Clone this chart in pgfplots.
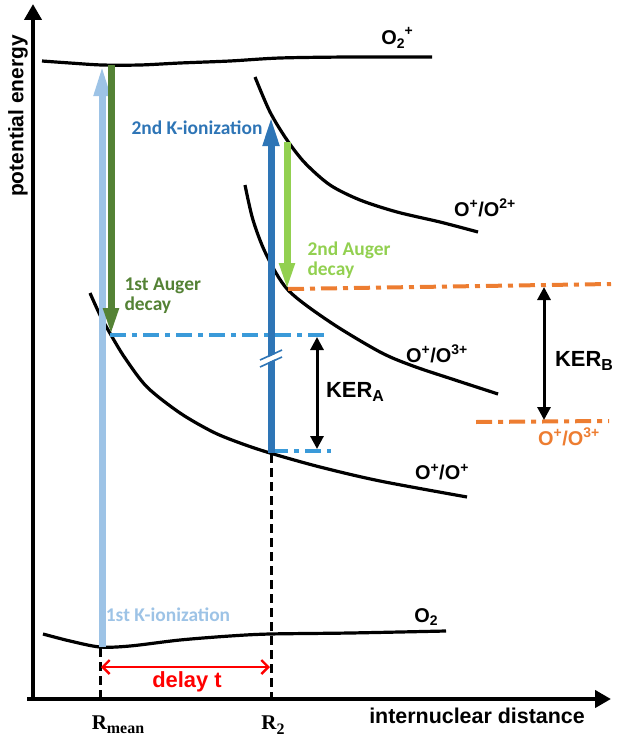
\documentclass[border=0pt]{standalone}
\usepackage{fontspec}
\setmainfont{Liberation Sans}
\newfontfamily\calfont{Carlito}
\newfontfamily\serfont{Liberation Serif}
\usepackage{pgfplots}
\pgfplotsset{compat=1.18}
\usetikzlibrary{arrows.meta}
\definecolor{lblue}{HTML}{9DC3E6}
\definecolor{dgreen}{HTML}{548235}
\definecolor{lgreen}{HTML}{92D050}
\definecolor{kblue}{HTML}{2E75B6}
\definecolor{dblue}{HTML}{3A9AD9}
\definecolor{orng}{HTML}{ED7D31}
\newcommand\fs[1]{\fontsize{#1}{#1}\selectfont}
\begin{document}
\begin{tikzpicture}
\begin{axis}[scale only axis, width=614bp, height=740bp,
  xmin=0, xmax=614, ymin=0, ymax=740, y dir=reverse,
  hide axis, clip=false]
\addplot[draw=none] coordinates {(0,0)(614,740)};
% axes
\addplot[black, line width=4bp, -{Triangle[length=16bp,width=17bp]}] coordinates {(33,700)(33,4)};
\addplot[black, line width=4bp, -{Triangle[length=16bp,width=17bp]}] coordinates {(27,699)(611,699)};
% dashed verticals
\addplot[black, line width=3bp, dash pattern=on 9bp off 5bp] coordinates {(100,648)(100,699)};
\addplot[black, line width=3bp, dash pattern=on 9bp off 5bp] coordinates {(271,454)(271,699)};
% curves
\addplot[black, line width=3.2bp, smooth] coordinates {(42,61)(70,63)(102,65)(140,65)(180,63)(230,61)(280,58)(350,57)(432,57)};
\addplot[black, line width=3.2bp, smooth] coordinates {(43,634)(70,641)(100,647)(130,646)(180,640)(230,636)(270,634)(350,633)(446,631)};
\addplot[black, line width=3.2bp, smooth] coordinates {(255,77)(270,112)(287,140)(305,163)(330,185)(360,200)(397,212)(440,222)(478,232)};
\addplot[black, line width=3.2bp, smooth] coordinates {(245,185)(253,220)(266,254)(288,290)(330,322)(380,352)(413,366)(455,380)(498,394)};
\addplot[black, line width=3.2bp, smooth] coordinates {(90,293)(100,315)(111,335)(125,358)(147,387)(180,413)(213,432)(240,443)(270,453)(320,467)(380,481)(467,497)};
% dash-dot levels
\addplot[dblue, line width=4bp, dash pattern=on 16bp off 6bp on 5bp off 6bp] coordinates {(110,335)(328,335)};
\addplot[dblue, line width=4bp, dash pattern=on 16bp off 6bp on 5bp off 6bp] coordinates {(272,451)(331,451)};
\addplot[orng, line width=4bp, dash pattern=on 16bp off 6bp on 5bp off 6bp] coordinates {(288,289)(611,284)};
\addplot[orng, line width=4bp, dash pattern=on 16bp off 6bp on 5bp off 6bp] coordinates {(476,422)(609,421)};
% transition arrows
\addplot[lblue, line width=7bp, -{Triangle[length=31bp,width=15bp]}] coordinates {(102,647)(102,65)};
\addplot[dgreen, line width=7bp, -{Triangle[length=28bp,width=14bp]}] coordinates {(111,65)(111,336)};
\addplot[kblue, line width=7bp, -{Triangle[length=30bp,width=15bp]}] coordinates {(271,453)(271,116)};
\addplot[lgreen, line width=7bp, -{Triangle[length=28bp,width=14bp]}] coordinates {(287,142)(287,291)};
% break mark
\addplot[white, line width=4.5bp] coordinates {(260,363.5)(282,353.5)};
\addplot[kblue, line width=1.6bp] coordinates {(260,360)(282,350)};
\addplot[kblue, line width=1.6bp] coordinates {(260,367)(282,357)};
% KER arrows
\addplot[black, line width=3bp, {Triangle[length=13bp,width=13bp]}-{Triangle[length=13bp,width=13bp]}] coordinates {(317,337)(317,449)};
\addplot[black, line width=3bp, {Triangle[length=13bp,width=13bp]}-{Triangle[length=13bp,width=13bp]}] coordinates {(544,287)(544,420)};
% delay arrow
\addplot[red, line width=2.4bp, {Straight Barb[length=7bp,width=14bp]}-{Straight Barb[length=7bp,width=14bp]}] coordinates {(101,667)(270,667)};
% labels
\node[rotate=90] at (axis cs:18,116) {\fs{21}\bfseries potential energy};
\node at (axis cs:477,716) {\fs{21.5}\bfseries internuclear distance};
\node at (axis cs:118,725) {\serfont\bfseries\fs{21}R\raisebox{-0.45ex}{\fs{16}mean}};
\node at (axis cs:273,725) {\serfont\bfseries\fs{21}R\raisebox{-0.45ex}{\fs{16}2}};
\node at (axis cs:397,38) {\fs{20}\bfseries O\raisebox{-0.35ex}{\fs{14}2}\raisebox{0.9ex}{\fs{14}+}};
\node at (axis cs:426,617) {\fs{20}\bfseries O\raisebox{-0.35ex}{\fs{14}2}};
\node at (axis cs:485,208) {\fs{20}\bfseries O\textsuperscript{+}/O\textsuperscript{2+}};
\node at (axis cs:437,354) {\fs{20}\bfseries O\textsuperscript{+}/O\textsuperscript{3+}};
\node at (axis cs:442,472) {\fs{20}\bfseries O\textsuperscript{+}/O\textsuperscript{+}};
\node[text=orng] at (axis cs:569,437) {\fs{20}\bfseries O\textsuperscript{+}/O\textsuperscript{3+}};
\node at (axis cs:355,392) {\fs{22}\bfseries KER\raisebox{-0.4ex}{\fs{16}A}};
\node at (axis cs:584,361) {\fs{22}\bfseries KER\raisebox{-0.4ex}{\fs{16}B}};
\node[text=red] at (axis cs:187,682) {\fs{22}\bfseries delay t};
\node[text=kblue] at (axis cs:197,128) {\calfont\bfseries\fs{19.5}2nd K-ionization};
\node[text=lblue] at (axis cs:168,615) {\calfont\bfseries\fs{19.5}1st K-ionization};
\node[text=dgreen, anchor=west, align=left, font={\calfont\bfseries\fs{19.5}}] at (axis cs:121,296) {1st Auger\\[1bp]decay};
\node[text=lgreen, anchor=west, align=left, font={\calfont\bfseries\fs{19.5}}] at (axis cs:304,260) {2nd Auger\\[1bp]decay};
\end{axis}
\end{tikzpicture}
\end{document}
